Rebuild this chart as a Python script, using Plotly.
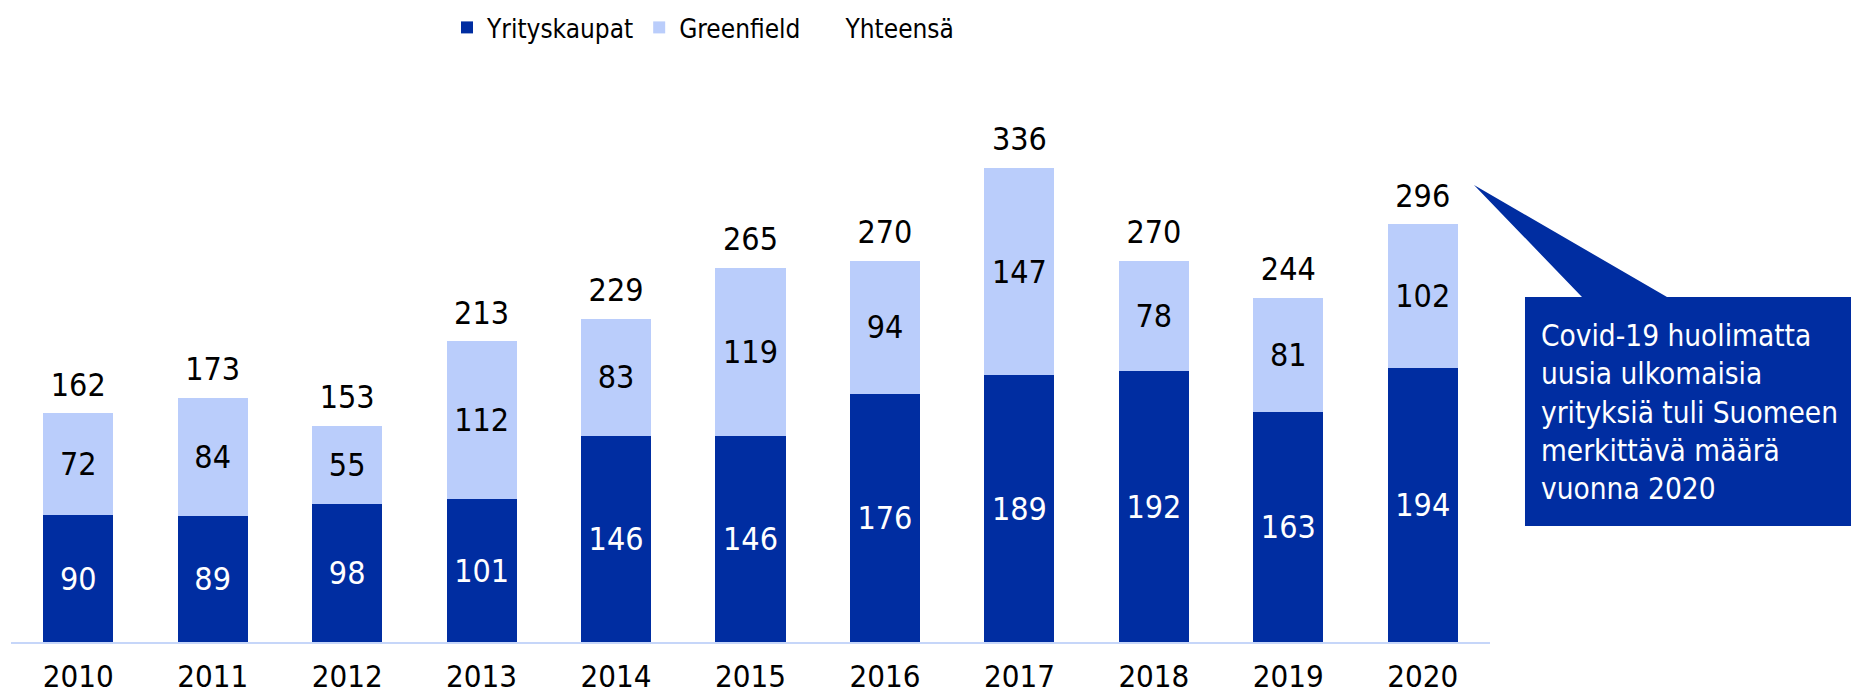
import plotly.graph_objects as go

years = ["2010", "2011", "2012", "2013", "2014", "2015", "2016", "2017", "2018", "2019", "2020"]
yrityskaupat = [90, 89, 98, 101, 146, 146, 176, 189, 192, 163, 194]
greenfield = [72, 84, 55, 112, 83, 119, 94, 147, 78, 81, 102]
yhteensa = [162, 173, 153, 213, 229, 265, 270, 336, 270, 244, 296]

callout_lines = ["Covid-19 huolimatta", "uusia ulkomaisia", "yrityksiä tuli Suomeen",
                 "merkittävä määrä", "vuonna 2020"]

DARK = "#002DA1"
LIGHT = "#BACDFB"
FONT = "DejaVu Sans Condensed, DejaVu Sans, sans-serif"

W, H = 1851, 695
ML, MR, MT, MB = 11, 361, 60, 53
PW = W - ML - MR
PH = H - MT - MB


def px(x):
    return (x - ML) / PW


def py(y):
    return (H - MB - y) / PH


fig = go.Figure()
fig.add_trace(go.Bar(
    name="Yrityskaupat", x=years, y=yrityskaupat, marker_color=DARK,
    marker_line_width=0,
    text=yrityskaupat, textposition="inside", insidetextanchor="middle",
    textangle=0, textfont=dict(color="white", size=32, family=FONT),
))
fig.add_trace(go.Bar(
    name="Greenfield", x=years, y=greenfield, marker_color=LIGHT,
    marker_line_width=0,
    text=greenfield, textposition="inside", insidetextanchor="middle",
    textangle=0, textfont=dict(color="black", size=32, family=FONT),
))
fig.add_trace(go.Scatter(
    name="Yhteensä", x=years, y=yhteensa, mode="markers+text",
    marker=dict(color="rgba(0,0,0,0)", size=14),
    text=yhteensa, textposition="top center",
    textfont=dict(color="black", size=32, family=FONT),
    cliponaxis=False,
))

# callout
pts = [(1525, 297), (1582, 297), (1474, 185), (1667, 297), (1851, 297), (1851, 526), (1525, 526)]
path = "M " + " L ".join(f"{px(x):.5f},{py(y):.5f}" for x, y in pts) + " Z"
fig.add_shape(type="path", path=path, xref="paper", yref="paper",
              fillcolor=DARK, line=dict(width=0), layer="above")
fig.add_annotation(
    xref="paper", yref="paper", x=px(1539), y=py(412), xanchor="left", yanchor="middle",
    text="<br>".join(callout_lines), showarrow=False, align="left",
    font=dict(color="white", size=29.5, family=FONT),
)

fig.update_layout(
    width=W, height=H,
    margin=dict(l=ML, r=MR, t=MT, b=MB, autoexpand=False),
    barmode="stack", bargap=0.479,
    plot_bgcolor="white", paper_bgcolor="white",
    font=dict(family=FONT, color="black"),
    uniformtext=dict(minsize=32, mode="show"),
    showlegend=True,
    legend=dict(orientation="h", x=px(447), xanchor="left", y=py(4), yanchor="top",
                font=dict(size=26, family=FONT), traceorder="normal",
                bgcolor="rgba(0,0,0,0)"),
    xaxis=dict(showline=True, linecolor="#C6D6F9", linewidth=2, showgrid=False,
               ticks="", tickfont=dict(size=31, family=FONT), ticklabelstandoff=6,
               automargin=False, range=[-0.5, len(years) - 0.5]),
    yaxis=dict(visible=False, range=[0, PH / 1.411], showgrid=False, zeroline=False,
               automargin=False),
)

fig.write_html("out.html", config={"displayModeBar": False},
               post_script="document.body.style.margin='0';")
